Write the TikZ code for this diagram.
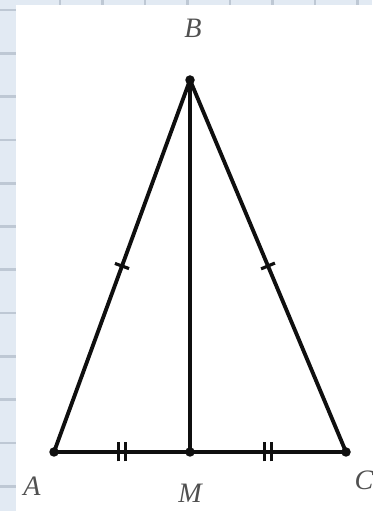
\documentclass[tikz,border=0pt]{standalone}
\usepackage{fontspec}
\setmainfont{Liberation Serif}
\usepackage{tikz}
\usetikzlibrary{decorations.markings, positioning}
\definecolor{mydark}{RGB}{15,15,15}
\definecolor{mylabel}{RGB}{80,80,80}
\definecolor{mystrip}{RGB}{226,234,243}
\definecolor{mygrid}{RGB}{190,200,212}
\tikzset{
  side/.style={line width=2.2pt, color=mydark},
  dot/.style={circle, fill=mydark, inner sep=0pt, minimum size=0.19cm},
  ptlabel/.style={font=\fontsize{16}{19}\selectfont\itshape, text=mylabel, inner sep=1pt},
  onetick/.style={postaction={decorate, decoration={markings,
    mark=at position 0.5 with {\draw[line width=1.8pt, color=mydark] (0,-0.15) -- (0,0.15);}}}},
  twotick/.style={postaction={decorate, decoration={markings,
    mark=at position 0.5 with {\draw[line width=1.8pt, color=mydark] (-0.07,-0.19) -- (-0.07,0.19) (0.07,-0.19) -- (0.07,0.19);}}}}
}
\begin{document}
\begin{tikzpicture}
  \useasboundingbox (0,0) rectangle (7.44,10.22);
  % background strips
  \fill[mystrip] (0,0) rectangle (0.32,10.22);
  \fill[mystrip] (0,10.12) rectangle (7.44,10.22);
  \foreach \y in {0,1,...,11}
    \draw[mygrid, line width=1.5pt] (0,10.02-0.866*\y) -- (0.32,10.02-0.866*\y);
  \foreach \x in {0,1,...,7}
    \draw[mygrid, line width=1.5pt] (1.2+0.85*\x,10.12) -- (1.2+0.85*\x,10.22);

  % points
  \coordinate (A) at (1.08,1.18);
  \coordinate (M) at (3.80,1.18);
  \coordinate (C) at (6.92,1.18);
  \coordinate (B) at (3.80,8.62);

  % sides
  \draw[side, onetick] (A) -- (B);
  \draw[side, onetick] (B) -- (C);
  \draw[side, twotick] (A) -- (M);
  \draw[side, twotick] (M) -- (C);
  \draw[side] (B) -- (M);

  \foreach \p in {A,B,C,M}
    \node[dot] (dot\p) at (\p) {};

  % labels
  \node[ptlabel] (labB) at (3.86,9.66) {B};
  \node[ptlabel] (labA) at (0.64,0.5) {A};
  \node[ptlabel] (labM) at (3.80,0.36) {M};
  \node[ptlabel] (labC) at (7.28,0.62) {C};
\end{tikzpicture}
\end{document}
